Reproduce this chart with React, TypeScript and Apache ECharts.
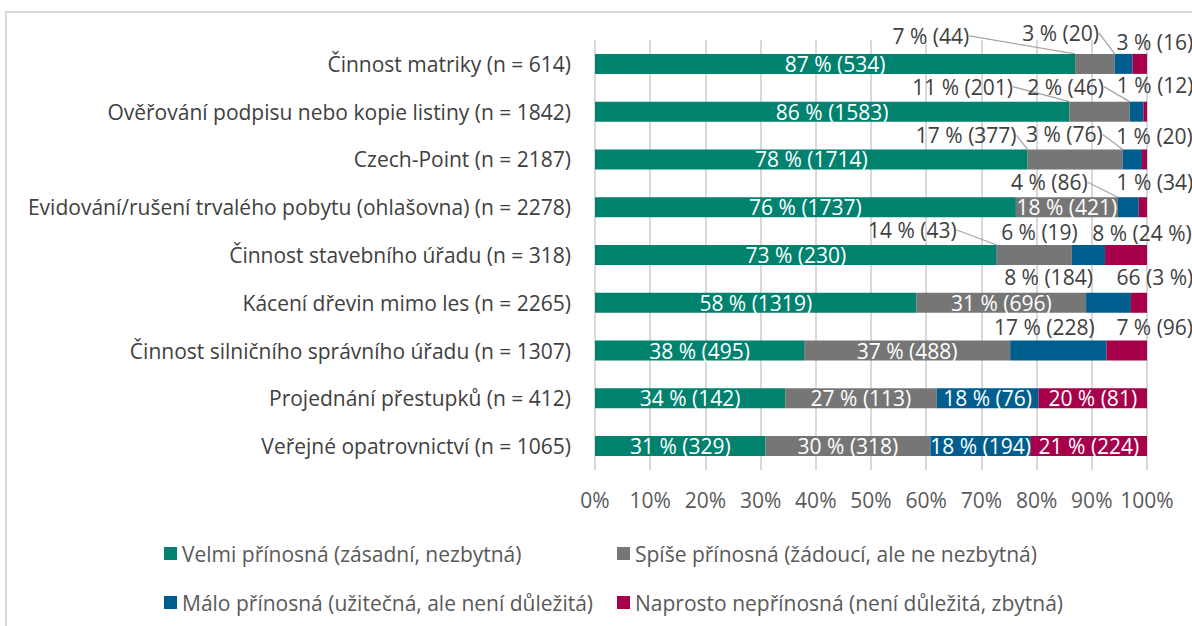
import React, { useEffect, useRef } from "react";
import * as echarts from "echarts";

const categories = [
  "Činnost matriky (n = 614)",
  "Ověřování podpisu nebo kopie listiny (n = 1842)",
  "Czech-Point (n = 2187)",
  "Evidování/rušení trvalého pobytu (ohlašovna) (n = 2278)",
  "Činnost stavebního úřadu (n = 318)",
  "Kácení dřevin mimo les (n = 2265)",
  "Činnost silničního správního úřadu (n = 1307)",
  "Projednání přestupků (n = 412)",
  "Veřejné opatrovnictví (n = 1065)",
];

const seriesNames = [
  "Velmi přínosná (zásadní, nezbytná)",
  "Spíše přínosná (žádoucí, ale ne nezbytná)",
  "Málo přínosná (užitečná, ale není důležitá)",
  "Naprosto nepřínosná (není důležitá, zbytná)",
];

const veryCounts = [534, 1583, 1714, 1737, 230, 1319, 495, 142, 329];
const ratherCounts = [44, 201, 377, 421, 43, 696, 488, 113, 318];
const littleCounts = [20, 46, 76, 86, 19, 184, 228, 76, 194];
const notCounts = [16, 12, 20, 34, 24, 66, 96, 81, 224];

const veryLabels = ["87 % (534)", "86 % (1583)", "78 % (1714)", "76 % (1737)", "73 % (230)", "58 % (1319)", "38 % (495)", "34 % (142)", "31 % (329)"];
const ratherLabels = ["7 % (44)", "11 % (201)", "17 % (377)", "18 % (421)", "14 % (43)", "31 % (696)", "37 % (488)", "27 % (113)", "30 % (318)"];
const littleLabels = ["3 % (20)", "2 % (46)", "3 % (76)", "4 % (86)", "6 % (19)", "8 % (184)", "17 % (228)", "18 % (76)", "18 % (194)"];
const notLabels = ["3 % (16)", "1 % (12)", "1 % (20)", "1 % (34)", "8 % (24 %)", "66 (3 %)", "7 % (96)", "20 % (81)", "21 % (224)"];

const xTickValues = [0, 10, 20, 30, 40, 50, 60, 70, 80, 90, 100];

// styling / label placement (offsets from the top-centre of each segment)
const COLORS = ["#00826F", "#767676", "#005E8E", "#A6004A"];
type Off = [number, number, boolean] | null;
const offsets: Off[][] = [
  [null, null, null, null, null, null, null, null, null],
  [[-164, -18, true], [-137, -15, true], [-109, -14, true], null, [-122, -15, true], null, null, null, null],
  [[-63, -21, true], [-71, -15, true], [-68, -15, true], [-79, -15, true], [-49, -13, false], [-60, -16, false], [-14, -14, false], null, null],
  [[15, -12, false], [10, -17, false], [10, -13, false], [12, -15, false], [16, -12, false], [16, -16, false], [28, -14, false], null, null],
];
// legend placement: [left, top] for each series' legend entry
const legendPos: [number, number][] = [
  [159, 538],
  [612, 538],
  [159, 587],
  [612, 587],
];

const FONT = "'Open Sans', 'Noto Sans', sans-serif";
const FS = 21;

export default function App() {
  const ref = useRef<HTMLDivElement>(null);
  useEffect(() => {
    const chart = echarts.init(ref.current!, null, { renderer: "svg" });
    const counts = [veryCounts, ratherCounts, littleCounts, notCounts];
    const labels = [veryLabels, ratherLabels, littleLabels, notLabels];
    const totals = categories.map((_, i) => counts.reduce((s, c) => s + c[i], 0));

    const series = counts.map((arr, si) => ({
      type: "bar",
      name: seriesNames[si],
      stack: "all",
      barWidth: 20,
      itemStyle: { color: COLORS[si] },
      label: {
        show: true,
        position: "inside",
        color: "#fff",
        fontFamily: FONT,
        fontSize: FS,
        lineHeight: 21,
        formatter: (p: any) => labels[si][p.dataIndex],
      },
      labelLine: { show: false, lineStyle: { color: "#A6A6A6", width: 1.3 } },
      labelLayout: (p: any) => {
        const o = offsets[si][p.dataIndex];
        if (!o) return {};
        return {
          x: p.rect.x + p.rect.width / 2 + o[0],
          y: p.rect.y + o[1],
          align: "center",
          verticalAlign: "middle",
        };
      },
      data: arr.map((v, i) => {
        const o = offsets[si][i];
        const item: any = { value: (v / totals[i]) * 100 };
        if (o) {
          item.label = { color: "#404040" };
          item.labelLine = { show: o[2] };
        }
        return item;
      }),
    }));

    const legends = seriesNames.map((name, si) => ({
      data: [name],
      left: legendPos[si][0],
      top: legendPos[si][1],
      icon: "rect",
      itemWidth: 13,
      itemHeight: 13,
      textStyle: { color: "#595959", fontSize: FS, fontFamily: FONT },
    }));

    const option: any = {
      animation: false,
      textStyle: { fontFamily: FONT },
      graphic: [
        {
          type: "rect",
          z: -10,
          shape: { x: 6, y: 12, width: 1400, height: 800 },
          style: { fill: "none", stroke: "#D9D9D9", lineWidth: 2 },
        },
      ],
      grid: { left: 595, right: 45, top: 40, bottom: 156 },
      xAxis: {
        type: "value",
        min: 0,
        max: 100,
        interval: 10,
        axisLine: { show: false },
        axisTick: { show: false },
        splitLine: { lineStyle: { color: "#D9D9D9", width: 2 } },
        axisLabel: {
          margin: 19,
          color: "#595959",
          fontSize: FS,
          fontFamily: FONT,
          formatter: (v: number) => (xTickValues.includes(v) ? v + "%" : ""),
        },
      },
      yAxis: {
        type: "category",
        inverse: true,
        data: categories,
        axisLine: { show: false },
        axisTick: { show: false },
        axisLabel: { margin: 24, color: "#404040", fontSize: FS, fontFamily: FONT },
      },
      legend: legends,
      series,
    };
    chart.setOption(option);
    return () => chart.dispose();
  }, []);
  return (
    <div
      ref={ref}
      style={{ position: "fixed", left: 0, top: 0, width: 1192, height: 626, background: "#fff" }}
    />
  );
}
